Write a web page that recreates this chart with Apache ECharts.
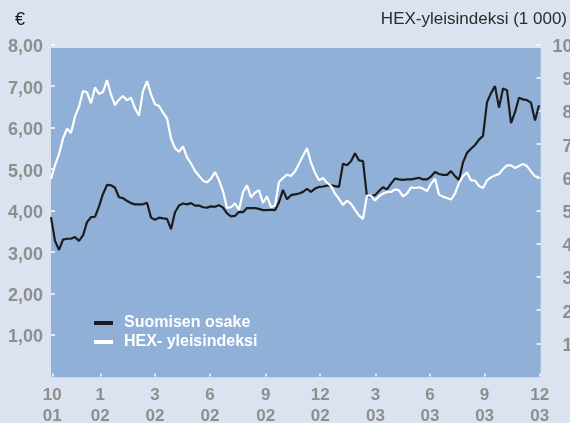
<!DOCTYPE html>
<html>
<head>
<meta charset="utf-8">
<script src="https://cdn.jsdelivr.net/npm/echarts@6/dist/echarts.min.js"></script>
<style>
html,body{margin:0;padding:0;background:#dbe3f1;}
#chart{width:570px;height:423px;}
</style>
</head>
<body>
<div id="chart"></div>
<script>
// Suomisen osake (€), left axis
const osake = [3.84,3.27,3.05,3.30,3.32,3.32,3.36,3.27,3.40,3.72,3.84,3.85,4.10,4.40,4.62,4.61,4.55,4.32,4.30,4.23,
4.18,4.15,4.15,4.15,4.19,3.83,3.78,3.83,3.81,3.80,3.55,3.96,4.12,4.17,4.15,4.18,4.12,4.12,4.08,4.07,
4.10,4.09,4.13,4.07,3.93,3.86,3.87,3.97,3.96,4.06,4.06,4.06,4.04,4.01,4.01,4.02,4.01,4.20,4.50,4.27,
4.37,4.39,4.41,4.45,4.52,4.45,4.53,4.57,4.58,4.60,4.61,4.59,4.57,5.13,5.09,5.19,5.38,5.21,5.19,4.33,
4.35,4.37,4.47,4.56,4.51,4.65,4.77,4.75,4.74,4.75,4.75,4.77,4.79,4.75,4.75,4.82,4.93,4.88,4.86,4.86,
4.95,4.83,4.74,5.16,5.39,5.49,5.58,5.71,5.80,6.61,6.83,7.00,6.48,6.94,6.90,6.11,6.37,6.72,6.68,6.66,
6.60,6.17,6.54];
// HEX-yleisindeksi (1 000), right axis
const hex = [5.95,6.36,6.70,7.17,7.47,7.34,7.83,8.13,8.60,8.56,8.23,8.71,8.51,8.57,8.93,8.49,8.18,8.34,8.45,8.32,
8.40,8.08,7.86,8.60,8.90,8.50,8.20,8.15,7.95,7.78,7.17,6.88,6.77,6.93,6.60,6.42,6.19,6.05,5.90,5.85,
5.96,6.16,5.92,5.58,5.08,5.10,5.22,5.02,5.56,5.76,5.40,5.54,5.61,5.23,5.43,5.10,5.15,5.86,5.98,6.08,
6.04,6.18,6.41,6.65,6.88,6.44,6.14,5.91,5.98,5.84,5.74,5.51,5.35,5.17,5.30,5.20,5.02,4.85,4.75,5.45,
5.45,5.30,5.43,5.51,5.56,5.56,5.64,5.61,5.43,5.51,5.70,5.68,5.70,5.66,5.59,5.81,5.96,5.48,5.42,5.38,
5.33,5.51,5.83,6.04,6.15,5.91,5.90,5.74,5.68,5.91,6.00,6.06,6.10,6.25,6.36,6.36,6.28,6.34,6.40,6.34,
6.18,6.03,6.01];
// x tick positions (in sample index units) and their labels
const tickPos = [0.33,12.33,26,39.75,53.7,67.3,81.1,94.75,108.4,122.2];
const tickLabels = ['10\n01','1\n02','3\n02','6\n02','9\n02','12\n02','3\n03','6\n03','9\n03','12\n03'];
const seriesNames = ['Suomisen osake','HEX- yleisindeksi'];

const chart = echarts.init(document.getElementById('chart'), null, {renderer:'canvas'});
const grey = '#8e8e8e';
const font = 'Liberation Sans';
const yRich = {a:{color:grey, fontWeight:'bold', fontSize:18, fontFamily:font, padding:[5,0,0,0]}};
chart.setOption({
  backgroundColor:'#dbe3f1',
  animation:false,
  textStyle:{fontFamily:font},
  grid:{left:51, top:44.6, width:489.6, height:331.9, show:false, containLabel:false, outerBoundsMode:'none'},
  graphic:[
    {type:'rect', z:-10, silent:true, shape:{x:51, y:48, width:489.7, height:329.3}, style:{fill:'#90b0d7'}},
    {type:'text', left:15, top:11, style:{text:'€', font:'18px "Liberation Sans"', fill:'#1a1a1a'}},
    {type:'text', right:3, top:11, style:{text:'HEX-yleisindeksi (1 000)', font:'17px "Liberation Sans"', fill:'#2b2b2b'}}
  ],
  legend:{
    orient:'vertical', left:94, top:315, padding:0, itemGap:3,
    itemWidth:19, itemHeight:4, icon:'rect',
    textStyle:{color:'#ffffff', fontWeight:'bold', fontSize:16, lineHeight:16, fontFamily:font, padding:[0,0,0,6]},
    data:seriesNames
  },
  xAxis:{
    type:'value', min:0, max:122.4,
    axisLine:{show:false},
    splitLine:{show:false},
    axisTick:{show:true, inside:true, length:3, customValues:tickPos, lineStyle:{color:'#ffffff', width:1.5}},
    axisLabel:{customValues:tickPos, margin:8, color:grey, fontWeight:'bold', fontSize:17, lineHeight:21, fontFamily:font,
      formatter:function(v){const k=tickPos.indexOf(v);return k>=0?tickLabels[k]:'';}}
  },
  yAxis:[
    {type:'value', min:0, max:8, interval:1, position:'left',
      axisLine:{show:false}, splitLine:{show:false},
      axisTick:{show:true, inside:true, length:4, lineStyle:{color:'#ffffff', width:1.5}},
      axisLabel:{showMinLabel:false, margin:8, rich:yRich,
        formatter:function(v){return '{a|'+v.toFixed(2).replace('.',',')+'}';}}
    },
    {type:'value', min:0, max:10, interval:1, position:'right',
      axisLine:{show:false}, splitLine:{show:false},
      axisTick:{show:true, inside:true, length:4, lineStyle:{color:'#ffffff', width:1.5}},
      axisLabel:{showMinLabel:false, margin:32, align:'right', rich:yRich,
        formatter:function(v){return '{a|'+v+'}';}}
    }
  ],
  series:[
    {name:seriesNames[0], type:'line', yAxisIndex:0, showSymbol:false, symbol:'none',
      color:'#1c1c1c', lineStyle:{color:'#1c1c1c', width:2.2},
      data:osake.map(function(v,i){return [i,v];})},
    {name:seriesNames[1], type:'line', yAxisIndex:1, showSymbol:false, symbol:'none',
      color:'#ffffff', lineStyle:{color:'#ffffff', width:2.2},
      data:hex.map(function(v,i){return [i,v];})}
  ]
});
</script>
</body>
</html>
